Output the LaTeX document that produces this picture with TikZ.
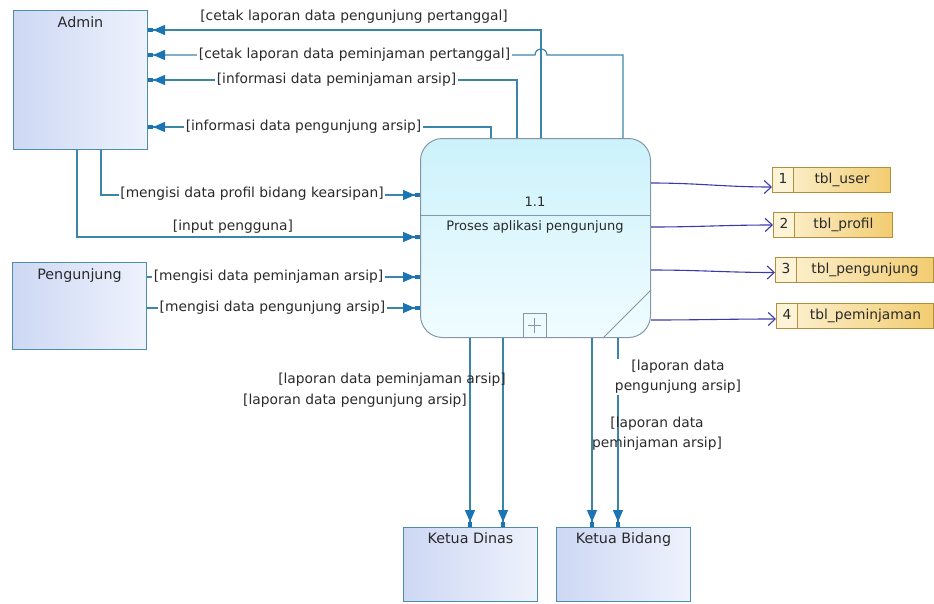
\documentclass[tikz,border=0pt]{standalone}
\usepackage{fontspec}
\setmainfont{DejaVu Sans}
\usetikzlibrary{arrows.meta}

\definecolor{flowc}{HTML}{3B86A8}
\definecolor{tipc}{HTML}{1B74B4}
\definecolor{entb}{HTML}{4E8DA8}
\definecolor{entf1}{HTML}{CDD8F4}
\definecolor{entf2}{HTML}{EEF2FC}
\definecolor{procb}{HTML}{8496A8}
\definecolor{procf1}{HTML}{CCF2FB}
\definecolor{procf2}{HTML}{F0FCFF}
\definecolor{storeb}{HTML}{B38E3C}
\definecolor{storef1}{HTML}{F2CC70}
\definecolor{storef2}{HTML}{FDF3D6}
\definecolor{storeflow}{HTML}{3A3AAE}
\definecolor{txt}{HTML}{2A2A2A}

\begin{document}
\begin{tikzpicture}[x=1pt,y=-1pt,
  every node/.style={text=txt, font=\fontsize{13}{20}\selectfont},
  entity/.style={draw=entb, line width=1pt, left color=entf1, right color=entf2,
    anchor=north west, inner sep=0pt},
  enttext/.style={anchor=north, text height=10.5pt, text depth=3pt, inner sep=2pt,
    font=\fontsize{14.3}{20}\selectfont},
  proc/.style={draw=procb, line width=1pt, rounded corners=22pt, top color=procf1,
    bottom color=procf2, anchor=north west, inner sep=0pt},
  store/.style={draw=storeb, line width=1pt, left color=storef2, right color=storef1,
    anchor=north west, inner xsep=0pt, inner ysep=6pt, text height=10pt, text depth=3pt,
    font=\fontsize{13.8}{20}\selectfont,
    path picture={
      \fill[storef2] (path picture bounding box.north west) rectangle
        ([xshift=21pt]path picture bounding box.south west);
      \draw[storeb, line width=1pt] ([xshift=21pt]path picture bounding box.north west) --
        ([xshift=21pt]path picture bounding box.south west);}},
  flow/.style={draw=flowc, line width=1.2pt,
    -{Triangle[length=12pt,width=10pt,color=tipc]Rectangle[length=5pt,width=4pt,color=tipc]}},
  sflow/.style={draw=storeflow, line width=1.1pt, -{Straight Barb[length=7pt,width=13pt]}},
  flowlabel/.style={inner sep=1.5pt, font=\fontsize{13.8}{20}\selectfont},
  cover/.style={fill=white}
]
\useasboundingbox (0,0) rectangle (934,603);

% entities
\node[entity, minimum width=134pt, minimum height=139pt] (admin) at (13,10) {};
\node[enttext] (admintxt) at ([yshift=-5pt]admin.north) {Admin};
\node[entity, minimum width=134pt, minimum height=87pt] (peng) at (12,262) {};
\node[enttext] (pengtxt) at ([yshift=-5pt]peng.north) {Pengunjung};
\node[entity, minimum width=134pt, minimum height=74pt] (dinas) at (403,527) {};
\node[enttext] (dinastxt) at ([yshift=-4pt]dinas.north) {Ketua Dinas};
\node[entity, minimum width=134pt, minimum height=74pt] (bidang) at (556,527) {};
\node[enttext] (bidangtxt) at ([yshift=-4pt]bidang.north) {Ketua Bidang};

% process
\node[proc, minimum width=230pt, minimum height=199pt] (proc) at (420,138) {};
\draw[procb, line width=1pt] (proc.west |- 0,215) -- (proc.east |- 0,215);
\node (procid) at (535,202) {1.1};
\node (procname) at (535,227) {Proses aplikasi pengunjung};
\node[draw=procb, line width=0.8pt, minimum width=23pt, minimum height=24pt, inner sep=0pt,
  anchor=south] (pbox) at (proc.south -| 534.5,0) {};
\draw[procb, line width=0.8pt] ([yshift=-5pt]pbox.north) -- ([yshift=5pt]pbox.south);
\draw[procb, line width=0.8pt] ([xshift=5pt]pbox.west) -- ([xshift=-5pt]pbox.east);
\draw[procb, line width=1pt] (proc.south -| 603,0) -- (proc.east |- 0,290);

% data stores
\node[store] (t1) at (772,167) {\makebox[21pt]{1}\makebox[97pt]{tbl\_user}};
\node[store] (t2) at (773,212) {\makebox[21pt]{2}\makebox[98pt]{tbl\_profil}};
\node[store] (t3) at (775,257) {\makebox[21pt]{3}\makebox[137pt]{tbl\_pengunjung}};
\node[store] (t4) at (776,303) {\makebox[21pt]{4}\makebox[136pt]{tbl\_peminjaman}};

\draw[sflow] (proc.east |- 0,183) to[out=0,in=180] ([yshift=-7pt]t1.west);
\draw[sflow] (proc.east |- 0,227) to[out=0,in=180] (t2.west);
\draw[sflow] (proc.east |- 0,270) to[out=0,in=180] ([yshift=-2.5pt]t3.west);
\draw[sflow] (proc.east |- 0,320) to[out=0,in=180] ([yshift=-3pt]t4.west);

% flows to Admin
\coordinate (hop) at (541,55);
\draw[flow] (proc.north -| 541,0) |- (admin.east |- 0,30);
\draw[flow] (proc.north -| 623,0) |- ([xshift=6pt]hop)
  arc[start angle=0, end angle=180, radius=6pt] -- (admin.east |- hop);
\draw[flow] (proc.north -| 517,0) |- (admin.east |- 0,80);
\draw[flow] (proc.north -| 491,0) |- (admin.east |- 0,127);

% flows from Admin / Pengunjung
\draw[flow] (admin.south -| 101,0) |- (proc.west |- 0,195);
\draw[flow] (admin.south -| 77,0) |- (proc.west |- 0,237);
\draw[flow] (peng.east |- 0,277) -- (proc.west |- 0,277);
\draw[flow] (peng.east |- 0,308) -- (proc.west |- 0,308);

% flows to Ketua
\draw[flow] (proc.south -| 470,0) -- (dinas.north -| 470,0);
\draw[flow] (proc.south -| 503,0) -- (dinas.north -| 503,0);
\draw[flow] (proc.south -| 592,0) -- (bidang.north -| 592,0);
\draw[flow] (proc.south -| 618,0) -- (bidang.north -| 618,0);

% labels
\node[flowlabel] (l1) at (354,17) {[cetak laporan data pengunjung pertanggal]};
\node[flowlabel, cover] (l2) at (354.5,55) {[cetak laporan data peminjaman pertanggal]};
\node[flowlabel, cover] (l3) at (336.5,80) {[informasi data peminjaman arsip]};
\node[flowlabel, cover] (l4) at (303.5,127) {[informasi data pengunjung arsip]};
\node[flowlabel, cover] (l5) at (252,194) {[mengisi data profil bidang kearsipan]};
\node[flowlabel] (l6) at (233,227) {[input pengguna]};
\node[flowlabel, cover] (l7) at (268.5,277) {[mengisi data peminjaman arsip]};
\node[flowlabel, cover] (l8) at (272.5,308) {[mengisi data pengunjung arsip]};
\node[flowlabel] (l9) at (392,380) {[laporan data peminjaman arsip]};
\node[flowlabel] (l10) at (355,401) {[laporan data pengunjung arsip]};
\node[flowlabel, cover, align=center] (l11) at (678,377) {[laporan data\\pengunjung arsip]};
\node[flowlabel, align=center] (l12) at (657,434) {[laporan data\\peminjaman arsip]};
\end{tikzpicture}
\end{document}
